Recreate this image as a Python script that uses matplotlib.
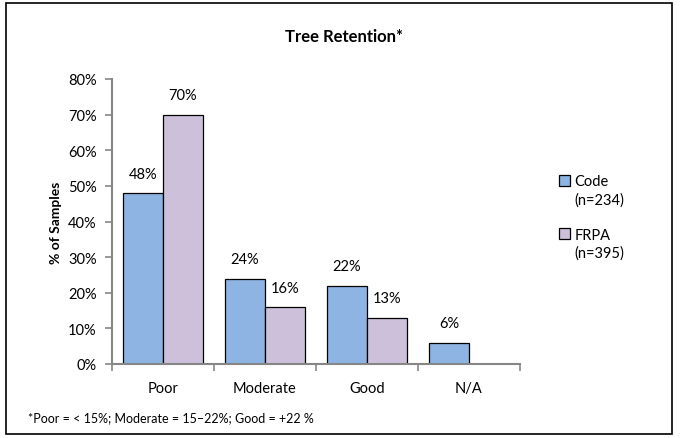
import numpy as np
import matplotlib.pyplot as plt
from matplotlib.patches import Rectangle

categories = ['Poor', 'Moderate', 'Good', 'N/A']
code_vals = [48, 24, 22, 6]
frpa_vals = [70, 16, 13, None]
yticks = [0, 10, 20, 30, 40, 50, 60, 70, 80]
legend_names = ['Code', 'FRPA']
legend_counts = ['(n=234)', '(n=395)']

plt.rcParams['font.family'] = ['Lato', 'DejaVu Sans']

fig = plt.figure(figsize=(6.8, 4.39), dpi=100)
ax = fig.add_axes([112 / 680, 1 - 365 / 439, 408 / 680, 285 / 439])

x = np.arange(len(categories))
w = 0.39
grey = '#868686'

code_bars = ax.bar(x - w / 2, code_vals, w, color='#8DB4E2', edgecolor='black', linewidth=0.9)
frpa_x = [xi + w / 2 for xi, v in zip(x, frpa_vals) if v is not None]
frpa_h = [v for v in frpa_vals if v is not None]
frpa_bars = ax.bar(frpa_x, frpa_h, w, color='#CCC0DA', edgecolor='black', linewidth=0.9)

for b, v in zip(code_bars, code_vals):
    ax.text(b.get_x() + b.get_width() / 2, v + 3.5, f'{v}%', ha='center', va='bottom', fontsize=10.5)
for b, v in zip(frpa_bars, frpa_h):
    ax.text(b.get_x() + b.get_width() / 2, v + 3.5, f'{v}%', ha='center', va='bottom', fontsize=10.5)

ax.set_xlim(-0.5, len(categories) - 0.5)
ax.set_ylim(0, 80)
ax.set_yticks(yticks)
ax.set_yticklabels([f'{t}%' for t in yticks], fontsize=10.5)
ax.set_xticks(x)
ax.set_xticklabels(categories, fontsize=10.5)
ax.tick_params(axis='x', length=0, pad=12)
ax.set_xticks(np.arange(-0.5, len(categories) + 0.5, 1), minor=True)
ax.tick_params(axis='x', which='minor', length=5, color=grey, width=1.2)
ax.tick_params(axis='y', length=5, color=grey, width=1.2, pad=6)
for s in ['top', 'right']:
    ax.spines[s].set_visible(False)
for s in ['left', 'bottom']:
    ax.spines[s].set_color(grey)
    ax.spines[s].set_linewidth(1.5)

ax.set_ylabel('% of Samples', fontsize=10, fontweight='bold', labelpad=4)

fig.text(344 / 680, 1 - 37 / 439, 'Tree Retention*', ha='center', va='center', fontsize=12, fontweight='bold')
fig.text(28 / 680, 1 - 418 / 439, '*Poor = < 15%; Moderate = 15\u201322%; Good = +22 %', ha='left', va='center', fontsize=9)

# legend: name with swatch, count on next line, blank row between series
blank = Rectangle((0, 0), 1, 1, visible=False)
handles = [code_bars, blank, blank, frpa_bars, blank]
labels = [legend_names[0], legend_counts[0], '', legend_names[1], legend_counts[1]]
leg = fig.legend(handles, labels, loc='upper left', bbox_to_anchor=(552 / 680, 1 - 168 / 439),
                 frameon=False, fontsize=10.5, handlelength=0.75, handleheight=0.75, handletextpad=0.3,
                 labelspacing=0.25, borderpad=0)

fig.patches.append(Rectangle((6 / 680, 4 / 439), 666 / 680, 431 / 439, transform=fig.transFigure,
                             fill=False, edgecolor='black', linewidth=1.2))

fig.savefig('out.png', dpi=100)
